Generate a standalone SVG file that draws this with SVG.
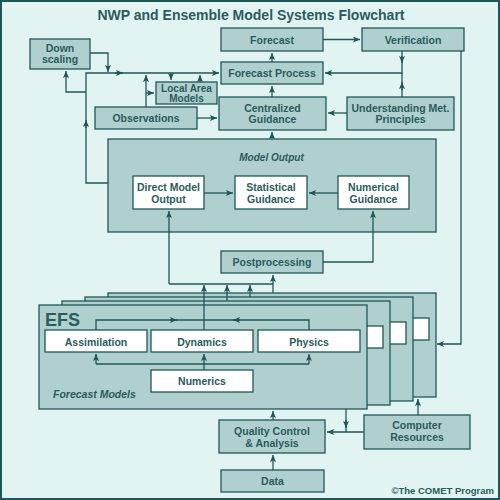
<svg xmlns="http://www.w3.org/2000/svg" width="500" height="500" viewBox="0 0 500 500">
<defs>
<marker id="ah" markerUnits="userSpaceOnUse" markerWidth="8" markerHeight="7" refX="7" refY="3" orient="auto">
<path d="M0,0 L7,3 L0,6 L1.5,3 Z" fill="#1f5658"/>
</marker>
<style>
.bg{fill:#e1f4f2;stroke:#1f5658;stroke-width:2}
.n{fill:#afd0cf;stroke:#1f5658;stroke-width:1.3}
.w{fill:#ffffff;stroke:#1f5658;stroke-width:1.3}
.t{font-family:"Liberation Sans",Arial,sans-serif;font-weight:bold;font-size:10.5px;fill:#2b5b5d;text-anchor:middle}
.s{font-size:10px}
.i{font-family:"Liberation Sans",Arial,sans-serif;font-weight:bold;font-style:italic;fill:#2b5b5d}
.c path{fill:none;stroke:#1f5658;stroke-width:1.3}
.c .a{marker-end:url(#ah)}
</style>
</defs>
<rect class="bg" x="1" y="1" width="498" height="498"/>
<text x="251" y="20" font-family="Liberation Sans,Arial,sans-serif" font-weight="bold" font-size="14" fill="#2b5b5d" text-anchor="middle">NWP and Ensemble Model Systems Flowchart</text>

<g id="forecast"><rect class="n" x="221" y="28" width="102" height="23"/><text class="t" x="272" y="43.5">Forecast</text></g>
<g id="verification"><rect class="n" x="362" y="28" width="102" height="23"/><text class="t" x="413" y="43.5">Verification</text></g>
<g id="forecast-process"><rect class="n" x="221" y="62" width="102" height="22"/><text class="t" x="272" y="77">Forecast Process</text></g>
<g id="downscaling"><rect class="n" x="30" y="39" width="60" height="30"/><text class="t" x="60" y="52">Down</text><text class="t" x="60" y="63">scaling</text></g>
<g id="local-area"><rect class="n" x="156" y="82" width="61" height="22"/><text class="t s" x="186.5" y="92">Local Area</text><text class="t s" x="186.5" y="102">Models</text></g>
<g id="observations"><rect class="n" x="95" y="107" width="102" height="22"/><text class="t" x="146" y="122">Observations</text></g>
<g id="centralized"><rect class="n" x="219" y="97" width="107" height="33"/><text class="t" x="272.5" y="111.5">Centralized</text><text class="t" x="272.5" y="123">Guidance</text></g>
<g id="understanding"><rect class="n" x="347" y="97" width="107" height="33"/><text class="t" x="400.5" y="111.5">Understanding Met.</text><text class="t" x="400.5" y="123">Principles</text></g>

<g id="model-output"><rect class="n" x="108" y="139" width="328" height="93"/><text class="i" x="271.5" y="161" font-size="10" text-anchor="middle">Model Output</text></g>
<g id="direct-model-output"><rect class="w" x="133" y="176" width="71" height="33"/><text class="t" x="168.5" y="191">Direct Model</text><text class="t" x="168.5" y="203">Output</text></g>
<g id="statistical"><rect class="w" x="235" y="176" width="72" height="33"/><text class="t" x="271" y="191">Statistical</text><text class="t" x="271" y="203">Guidance</text></g>
<g id="numerical"><rect class="w" x="338" y="176" width="71" height="33"/><text class="t" x="373.5" y="191">Numerical</text><text class="t" x="373.5" y="203">Guidance</text></g>
<g id="postprocessing"><rect class="n" x="221" y="251" width="102" height="22"/><text class="t" x="272" y="266">Postprocessing</text></g>

<g id="efs-card4"><rect class="n" x="108" y="293" width="328" height="104"/><rect class="w" x="327" y="318" width="102" height="22"/></g>
<g id="efs-card3"><rect class="n" x="85" y="297" width="328" height="104"/><rect class="w" x="304" y="322" width="102" height="22"/></g>
<g id="efs-card2"><rect class="n" x="62" y="301" width="328" height="104"/><rect class="w" x="281" y="326" width="102" height="22"/></g>
<g id="efs"><rect class="n" x="39" y="305" width="328" height="104"/>
<text x="45" y="326" font-family="Liberation Sans,Arial,sans-serif" font-weight="bold" font-size="18" fill="#2b5b5d">EFS</text>
<text class="i" x="53" y="398" font-size="10.5">Forecast Models</text></g>
<g id="assimilation"><rect class="w" x="45" y="330" width="102" height="22"/><text class="t" x="96" y="346">Assimilation</text></g>
<g id="dynamics"><rect class="w" x="151" y="330" width="102" height="22"/><text class="t" x="202" y="346">Dynamics</text></g>
<g id="physics"><rect class="w" x="258" y="330" width="102" height="22"/><text class="t" x="309" y="346">Physics</text></g>
<g id="numerics"><rect class="w" x="151" y="370" width="102" height="22"/><text class="t" x="202" y="385">Numerics</text></g>

<g id="quality-control"><rect class="n" x="219" y="420" width="106" height="33"/><text class="t" x="272" y="434.5">Quality Control</text><text class="t" x="272" y="446.5">&amp; Analysis</text></g>
<g id="computer-resources"><rect class="n" x="364" y="415" width="106" height="34"/><text class="t" x="417" y="429">Computer</text><text class="t" x="417" y="441">Resources</text></g>
<g id="data"><rect class="n" x="221" y="470" width="103" height="22"/><text class="t" x="272.5" y="485">Data</text></g>

<g id="connectors" class="c">
<path class="a" d="M323,39.5 H360"/>
<path class="a" d="M402,51 V73 H325"/>
<path class="a" d="M402,56 V63"/>
<path d="M402,97 V73"/>
<path class="a" d="M402,90 V82"/>
<path class="a" d="M347,113 H328"/>
<path class="a" d="M272,97 V86"/>
<path class="a" d="M272,62 V53"/>
<path class="a" d="M272,139 V132"/>
<path class="a" d="M197,118 H217"/>
<path class="a" d="M108,183 H86 V73 H219"/>
<path class="a" d="M86,128 V120"/>
<path class="a" d="M115,73 H123"/>
<path class="a" d="M86,92 H66 V71"/>
<path class="a" d="M90,53 H108 V72"/>
<path class="a" d="M171,73 V80"/>
<path class="a" d="M200,82 V75"/>
<path class="a" d="M146,107 V75"/>
<path class="a" d="M146,93 H154"/>
<path class="a" d="M204,193 H233"/>
<path class="a" d="M338,193 H309"/>
<path class="a" d="M323,262 H373 V211"/>
<path class="a" d="M273,293 V275"/>
<path d="M169,284 H273"/>
<path class="a" d="M169,284 V211"/>
<path class="a" d="M204,330 V285"/>
<path class="a" d="M227,301 V285"/>
<path class="a" d="M250,297 V285"/>
<path d="M96,330 V320 H309 V330"/>
<path class="a" d="M170,320 H177"/>
<path class="a" d="M240,320 H233"/>
<path d="M96,364 H309"/>
<path class="a" d="M96,364 V354"/>
<path class="a" d="M204,370 V354"/>
<path class="a" d="M309,364 V354"/>
<path class="a" d="M461,51 V344 H437"/>
<path class="a" d="M418,415 V399"/>
<path class="a" d="M364,432 H327"/>
<path d="M346,409 V432"/>
<path class="a" d="M346,420 V428"/>
<path class="a" d="M273,420 V411"/>
<path class="a" d="M273,470 V455"/>
</g>
<text x="494" y="494" font-family="Liberation Sans,Arial,sans-serif" font-weight="bold" font-size="9.5" fill="#2b5b5d" text-anchor="end">©The COMET Program</text>
</svg>
